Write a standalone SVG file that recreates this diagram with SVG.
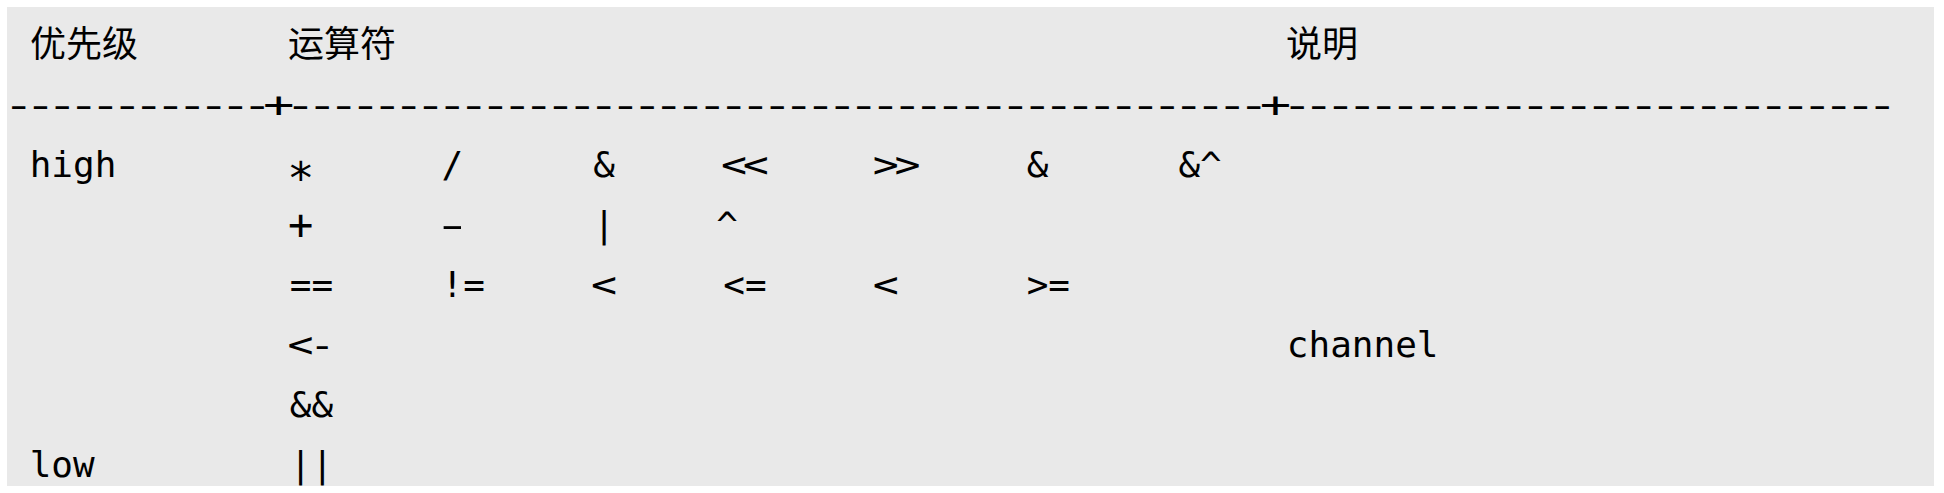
<svg xmlns="http://www.w3.org/2000/svg" width="1944" height="493" viewBox="0 0 1944 493">
<style>
.m{font-family:"DejaVu Sans Mono","Liberation Mono","Noto Sans CJK SC",monospace;font-size:36px;fill:#000}
.c{font-family:"Noto Sans CJK SC","DejaVu Sans",sans-serif;font-size:36px;fill:#000}
.s{letter-spacing:-3.6125px}
</style>
<defs><clipPath id="clip"><rect x="7" y="7" width="1927" height="479"/></clipPath></defs>
<rect x="0" y="0" width="1944" height="493" fill="#ffffff"/>
<rect id="panel" x="7" y="7" width="1927" height="479" fill="#e9e9e9"/>
<g clip-path="url(#clip)">
<g id="header">
<text class="c" x="30" y="57">优先级</text>
<text class="c" x="288" y="57">运算符</text>
<text class="c" x="1286" y="57">说明</text>
</g>
<g id="rule">
<text class="m" transform="translate(3.12,117) scale(1.45,1)" x="0" y="0" style="letter-spacing:-6.727px">------------+---------------------------------------------+----------------------------</text>
</g>
<g id="row1">
<text class="m" x="29.7" y="177">high</text>
<text class="m" x="287.2" y="193.7" style="font-size:45px">*</text>
<text class="m" x="441.5" y="177">/</text>
<text class="m" x="593.2" y="177">&amp;</text>
<text class="m s" transform="translate(721.11,177) scale(1.2,1)" x="0" y="0">&lt;&lt;</text>
<text class="m s" transform="translate(872.83,177) scale(1.2,1)" x="0" y="0">&gt;&gt;</text>
<text class="m" x="1026.7" y="177">&amp;</text>
<text class="m" x="1178.4" y="177">&amp;^</text>
</g>
<g id="row2">
<text class="m" x="288.05" y="239.4" style="font-size:42px">+</text>
<text class="m" transform="translate(452.4,237) scale(1.9,1)" x="-10.84" y="0">-</text>
<text class="m" x="593.2" y="237">|</text>
<text class="m" x="716.2" y="237">^</text>
</g>
<g id="row3">
<text class="m" x="289.8" y="297">==</text>
<text class="m" x="441.5" y="297">!=</text>
<text class="m s" transform="translate(591.06,297) scale(1.2,1)" x="0" y="0">&lt;</text>
<text class="m" x="723.3" y="297">&lt;=</text>
<text class="m s" transform="translate(872.83,297) scale(1.2,1)" x="0" y="0">&lt;</text>
<text class="m" x="1026.7" y="297">&gt;=</text>
</g>
<g id="row4">
<text class="m s" transform="translate(287.61,357) scale(1.2,1)" x="0" y="0">&lt;-</text>
<text class="m" x="1286.8" y="357">channel</text>
</g>
<g id="row5">
<text class="m" x="289.8" y="417">&amp;&amp;</text>
</g>
<g id="row6">
<text class="m" x="29.7" y="477">low</text>
<text class="m" x="289.8" y="477">||</text>
</g>
</g>
</svg>
